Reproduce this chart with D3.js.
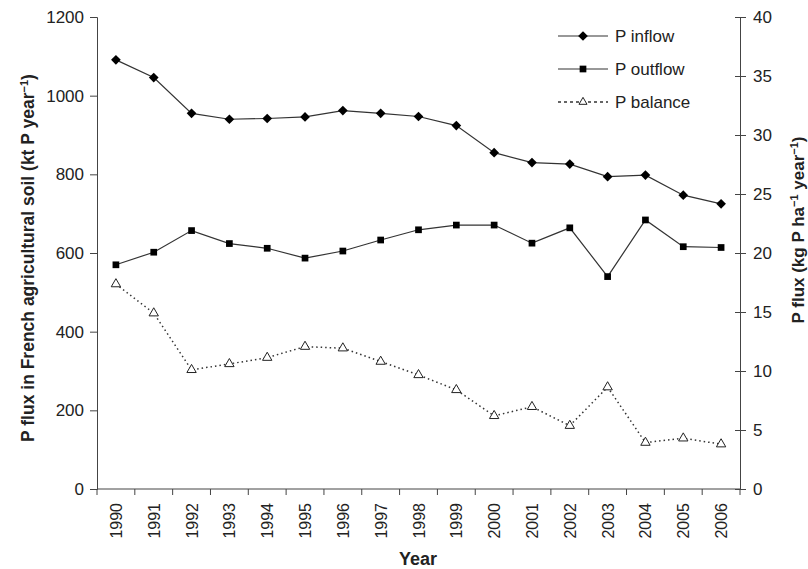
<!DOCTYPE html>
<html>
<head>
<meta charset="utf-8">
<script src="https://cdn.jsdelivr.net/npm/d3@7"></script>
<style>
  body { margin: 0; background: #fff; }
  text { font-family: "Liberation Sans", Arial, sans-serif; fill: #222; }
</style>
</head>
<body>
<div id="chart"></div>
<script>
const years = ["1990","1991","1992","1993","1994","1995","1996","1997","1998","1999","2000","2001","2002","2003","2004","2005","2006"];
const inflow = [1091,1046,955,940,942,946,962,955,947,924,855,830,826,794,798,747,725];
const outflow = [570,602,657,624,612,587,605,633,659,671,671,625,664,540,684,616,614];
const balance = [521,447,303,318,334,362,358,324,290,252,186,209,161,259,118,129,114];
const leftTicks = [0,200,400,600,800,1000,1200];
const rightTicks = [0,5,10,15,20,25,30,35,40];

const width = 808, height = 569;
const margin = { left: 97, right: 68, top: 17, bottom: 80 };

const svg = d3.select("#chart").append("svg")
    .attr("width", width)
    .attr("height", height);

const x = d3.scaleBand()
    .domain(years)
    .range([margin.left, width - margin.right]);

const y = d3.scaleLinear()
    .domain([0, 1200])
    .range([height - margin.bottom, margin.top]);

const y2 = d3.scaleLinear()
    .domain([0, 40])
    .range([height - margin.bottom, margin.top]);

const cx = d => x(d) + x.bandwidth() / 2;
const axisColor = "#444";

// x axis: ticks between categories
const xAxis = svg.append("g")
    .attr("transform", `translate(0,${height - margin.bottom})`);
xAxis.append("line")
    .attr("x1", margin.left).attr("x2", width - margin.right)
    .attr("stroke", axisColor);
xAxis.selectAll(".tk")
    .data(years.concat(["end"]))
    .join("line")
    .attr("x1", (d, i) => margin.left + i * x.bandwidth())
    .attr("x2", (d, i) => margin.left + i * x.bandwidth())
    .attr("y1", 0).attr("y2", 6)
    .attr("stroke", axisColor);
xAxis.selectAll(".lbl")
    .data(years)
    .join("text")
    .attr("transform", d => `translate(${cx(d) + 6},14) rotate(-90)`)
    .attr("text-anchor", "end")
    .style("font-size", "16px")
    .text(d => d);

svg.append("text")
    .attr("x", 418)
    .attr("y", 565)
    .attr("text-anchor", "middle")
    .style("font-size", "18px")
    .style("font-weight", "bold")
    .text("Year");

// left axis
const yAxis = svg.append("g")
    .attr("transform", `translate(${margin.left},0)`)
    .call(d3.axisLeft(y).tickValues(leftTicks).tickFormat(d3.format("d")).tickSize(7).tickPadding(6));
yAxis.select(".domain").attr("stroke", axisColor);
yAxis.selectAll(".tick line").attr("stroke", axisColor);
yAxis.selectAll(".tick text").style("font-size", "17px").attr("fill", "#222")
    .style("font-family", "Liberation Sans, Arial, sans-serif");

// right axis
const yAxis2 = svg.append("g")
    .attr("transform", `translate(${width - margin.right},0)`)
    .call(d3.axisRight(y2).tickValues(rightTicks).tickSize(6).tickPadding(7));
yAxis2.select(".domain").attr("stroke", axisColor);
yAxis2.selectAll(".tick line").attr("stroke", axisColor).attr("x1", -5);
yAxis2.selectAll(".tick text").style("font-size", "17px").attr("fill", "#222")
    .style("font-family", "Liberation Sans, Arial, sans-serif");

// axis titles
const lt = svg.append("text")
    .attr("transform", `translate(34,258) rotate(-90)`)
    .attr("text-anchor", "middle")
    .style("font-size", "17.5px")
    .style("font-weight", "bold");
lt.append("tspan").text("P flux in French agricultural soil  (kt P year");
lt.append("tspan").attr("baseline-shift", "super").style("font-size", "11px").text("−1");
lt.append("tspan").text(")");

const rt = svg.append("text")
    .attr("transform", `translate(804,230) rotate(-90)`)
    .attr("text-anchor", "middle")
    .style("font-size", "17px")
    .style("font-weight", "bold");
rt.append("tspan").text("P flux (kg P ha");
rt.append("tspan").attr("baseline-shift", "super").style("font-size", "11px").text("−1");
rt.append("tspan").text("  year");
rt.append("tspan").attr("baseline-shift", "super").style("font-size", "11px").text("−1");
rt.append("tspan").text(")");

// lines
const line = d3.line().x((d, i) => cx(years[i])).y(d => y(d));

svg.append("path").datum(inflow).attr("d", line)
    .attr("fill", "none").attr("stroke", "#333").attr("stroke-width", 1.2);
svg.append("path").datum(outflow).attr("d", line)
    .attr("fill", "none").attr("stroke", "#333").attr("stroke-width", 1.2);
svg.append("path").datum(balance).attr("d", line)
    .attr("fill", "none").attr("stroke", "#333").attr("stroke-width", 1.5)
    .attr("stroke-dasharray", "1.5,3");

const diamond = d3.symbol().type(d3.symbolDiamond2).size(60);
const square = d3.symbol().type(d3.symbolSquare).size(45);
const tri = d3.symbol().type(d3.symbolTriangle).size(38);

svg.selectAll(".m-in").data(inflow).join("path")
    .attr("d", diamond)
    .attr("transform", (d, i) => `translate(${cx(years[i])},${y(d)})`)
    .attr("fill", "#000");
svg.selectAll(".m-out").data(outflow).join("path")
    .attr("d", square)
    .attr("transform", (d, i) => `translate(${cx(years[i])},${y(d)})`)
    .attr("fill", "#000");
svg.selectAll(".m-bal").data(balance).join("path")
    .attr("d", tri)
    .attr("transform", (d, i) => `translate(${cx(years[i])},${y(d)})`)
    .attr("fill", "#fff").attr("stroke", "#222").attr("stroke-width", 1);

// legend
const legend = [
    { name: "P inflow", sym: diamond, fill: "#000", dash: null },
    { name: "P outflow", sym: square, fill: "#000", dash: null },
    { name: "P balance", sym: d3.symbol().type(d3.symbolTriangle).size(28), fill: "#fff", dash: "3,3" }
];
const lg = svg.append("g").attr("transform", "translate(558,36)");
legend.forEach((d, i) => {
    const g = lg.append("g").attr("transform", `translate(0,${i * 33})`);
    g.append("line").attr("x1", 0).attr("x2", 50)
        .attr("stroke", "#333").attr("stroke-width", d.dash ? 1.5 : 1.2)
        .attr("stroke-dasharray", d.dash);
    g.append("path").attr("d", d.sym).attr("transform", "translate(25,0)")
        .attr("fill", d.fill).attr("stroke", d.dash ? "#222" : null);
    g.append("text").attr("x", 57).attr("y", 6)
        .style("font-size", "17px").text(d.name);
});
</script>
</body>
</html>
